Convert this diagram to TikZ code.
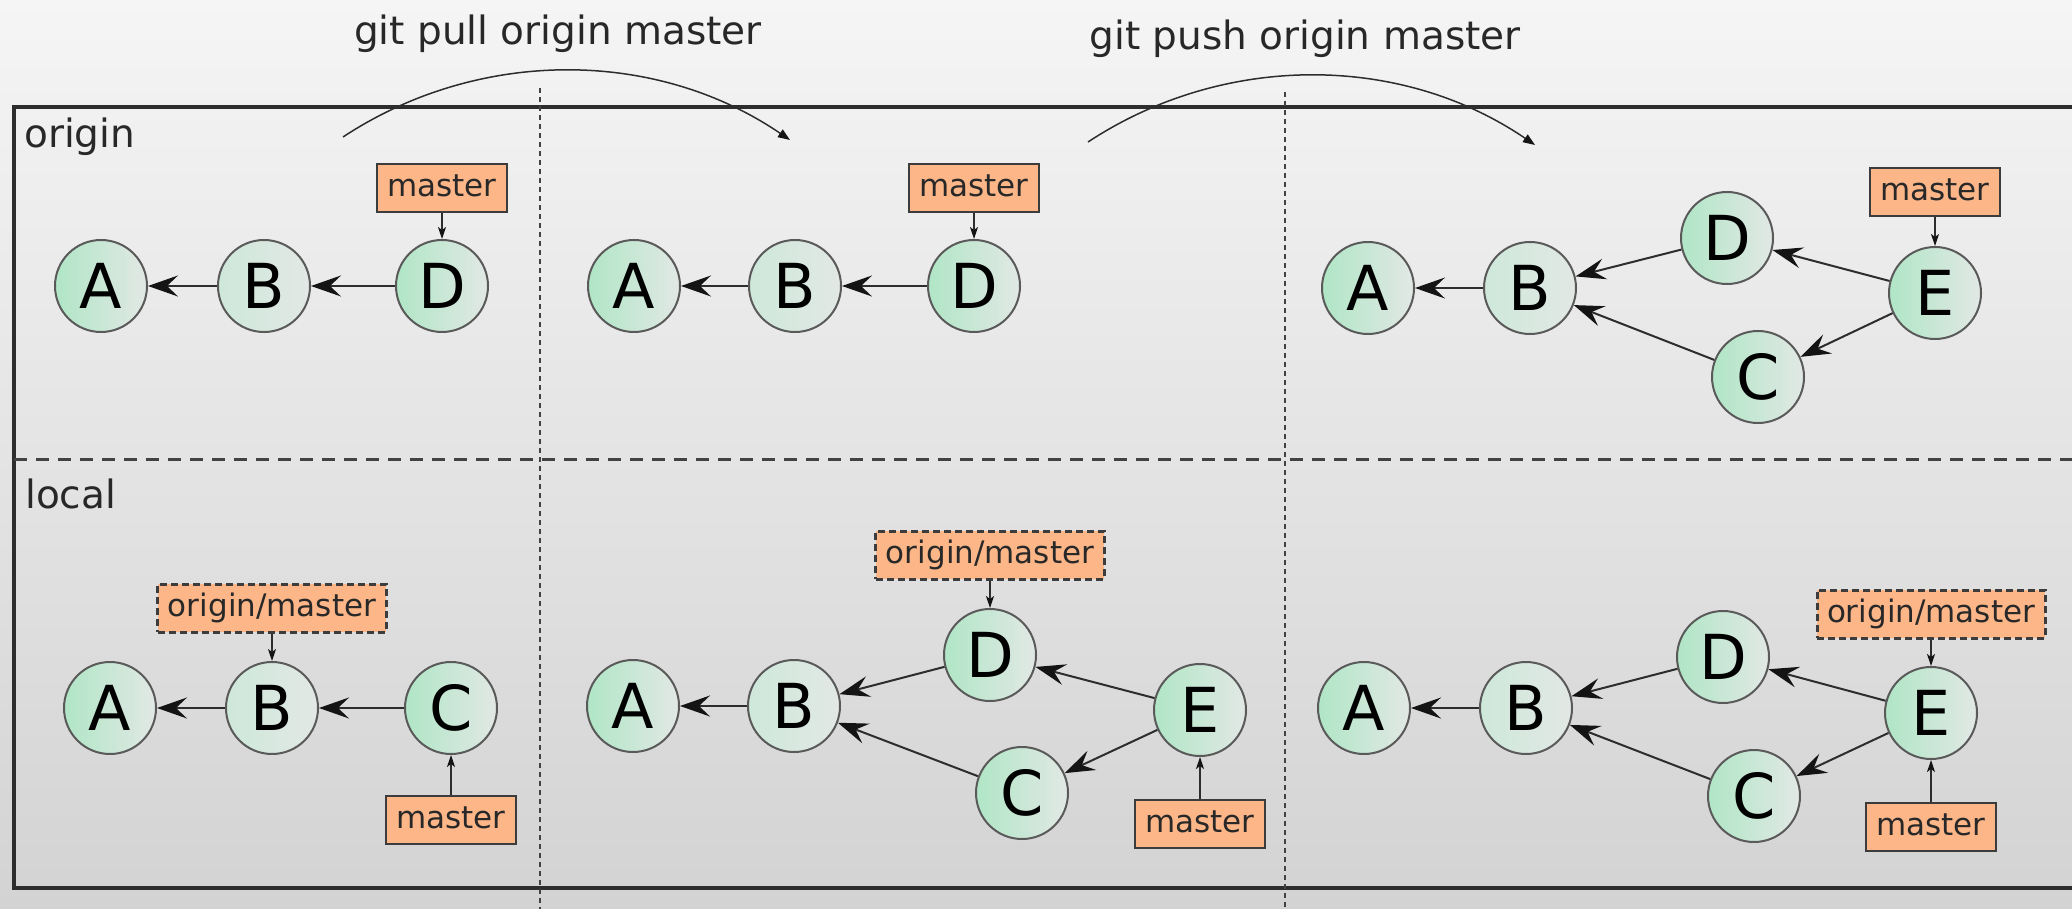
\documentclass[tikz,border=0pt]{standalone}
\usepackage{fontspec}
\setmainfont{DejaVu Sans}
\usetikzlibrary{arrows.meta}
\definecolor{bgtop}{RGB}{245,245,245}
\definecolor{bgbot}{RGB}{211,211,211}
\definecolor{cgreen}{RGB}{176,230,198}
\definecolor{cgray}{RGB}{226,232,229}
\definecolor{cpale}{RGB}{206,232,218}
\definecolor{cborder}{RGB}{90,90,90}
\definecolor{borange}{RGB}{252,182,136}
\definecolor{bborder}{RGB}{60,60,60}
\definecolor{linec}{RGB}{45,45,45}
\definecolor{tipc}{RGB}{20,20,20}
\definecolor{txt}{RGB}{40,40,40}
\tikzset{
  commit/.style={circle, draw=cborder, line width=2pt, minimum size=92pt, inner sep=0pt,
    left color=cgreen, right color=cgray, text=black, font=\fontsize{62}{70}\selectfont},
  pale/.style={left color=cpale, right color=cgray},
  branch/.style={draw=bborder, line width=2pt, fill=borange, text=txt,
    font=\fontsize{31}{36}\selectfont, inner xsep=10pt, inner ysep=0pt,
    minimum height=48pt, text height=24pt, text depth=7pt},
  remote/.style={branch, dash pattern=on 7pt off 4pt, line width=3pt},
  parent/.style={draw=linec, line width=2pt, -{Stealth[length=30pt,width=21pt,inset=11pt,color=tipc]}},
  ptr/.style={draw=linec, line width=1.5pt, -{Stealth[length=12pt,width=8pt,inset=3pt,color=tipc]}},
  cmdarc/.style={draw=linec, line width=1.5pt, -{Triangle[length=12pt,width=9pt,color=tipc]}},
  lbl/.style={inner sep=0pt, text=txt, font=\fontsize{39}{44}\selectfont},
}
\begin{document}
\begin{tikzpicture}[x=1pt,y=-1pt]
\useasboundingbox (0,0) rectangle (2072,909);
\shade[top color=bgtop, bottom color=bgbot] (0,0) rectangle (2072,909);

% frame and separators
\draw[line width=4pt, draw=linec] (14,107) rectangle (2110,888);
\draw[line width=3pt, draw=linec!90, dash pattern=on 13pt off 9pt] (14,459) -- (2110,459);
\draw[line width=2pt, draw=linec!90, dash pattern=on 5pt off 4pt] (540,88) -- (540,930);
\draw[line width=2pt, draw=linec!90, dash pattern=on 5pt off 4pt] (1285,92) -- (1285,930);

% labels
\node[lbl, anchor=base west] (lorigin) at (24,148) {origin};
\node[lbl, anchor=base west] (llocal) at (25,508) {local};
\node[lbl, anchor=base] (tpull) at (558,45) {git pull origin master};
\node[lbl, anchor=base] (tpush) at (1305,50) {git push origin master};

% command arcs
\coordinate (p1s) at (343,137);
\coordinate (p1e) at (790,140);
\coordinate (p2s) at (1088,142);
\coordinate (p2e) at (1535,145);
\draw[cmdarc] (p1s) .. controls (478,48) and (655,48) .. (p1e);
\draw[cmdarc] (p2s) .. controls (1223,53) and (1400,53) .. (p2e);

% ---- top panel 1 (origin)
\node[commit] (a1) at (101,286) {A};
\node[commit, pale] (b1) at (264,286) {B};
\node[commit] (d1) at (442,286) {D};
\node[branch] (m1) at (442,188) {master};
\draw[parent] (b1) -- (a1);
\draw[parent] (d1) -- (b1);
\draw[ptr] (m1) -- (d1);

% ---- top panel 2
\node[commit] (a2) at (634,286) {A};
\node[commit, pale] (b2) at (795,286) {B};
\node[commit] (d2) at (974,286) {D};
\node[branch] (m2) at (974,188) {master};
\draw[parent] (b2) -- (a2);
\draw[parent] (d2) -- (b2);
\draw[ptr] (m2) -- (d2);

% ---- top panel 3
\node[commit] (a3) at (1368,288) {A};
\node[commit, pale] (b3) at (1530,288) {B};
\node[commit] (d3) at (1727,238) {D};
\node[commit] (e3) at (1935,293) {E};
\node[commit] (c3) at (1758,377) {C};
\node[branch] (m3) at (1935,192) {master};
\draw[parent] (b3) -- (a3);
\draw[parent] (d3) -- (b3);
\draw[parent] (c3) -- (b3);
\draw[parent] (e3) -- (d3);
\draw[parent] (e3) -- (c3);
\draw[ptr] (m3) -- (e3);

% ---- bottom panel 1 (local)
\node[commit] (la1) at (110,708) {A};
\node[commit, pale] (lb1) at (272,708) {B};
\node[commit] (lc1) at (451,708) {C};
\node[remote] (lo1) at (272,608) {origin/master};
\node[branch] (lm1) at (451,820) {master};
\draw[parent] (lb1) -- (la1);
\draw[parent] (lc1) -- (lb1);
\draw[ptr] (lo1) -- (lb1);
\draw[ptr] (lm1) -- (lc1);

% ---- bottom panel 2
\node[commit] (la2) at (633,706) {A};
\node[commit, pale] (lb2) at (794,706) {B};
\node[commit] (ld2) at (990,655) {D};
\node[commit] (le2) at (1200,710) {E};
\node[commit] (lc2) at (1022,793) {C};
\node[remote] (lo2) at (990,555) {origin/master};
\node[branch] (lm2) at (1200,824) {master};
\draw[parent] (lb2) -- (la2);
\draw[parent] (ld2) -- (lb2);
\draw[parent] (lc2) -- (lb2);
\draw[parent] (le2) -- (ld2);
\draw[parent] (le2) -- (lc2);
\draw[ptr] (lo2) -- (ld2);
\draw[ptr] (lm2) -- (le2);

% ---- bottom panel 3
\node[commit] (la3) at (1364,708) {A};
\node[commit, pale] (lb3) at (1526,708) {B};
\node[commit] (ld3) at (1723,657) {D};
\node[commit] (le3) at (1931,713) {E};
\node[commit] (lc3) at (1754,796) {C};
\node[remote] (lo3) at (1931,614) {origin/master};
\node[branch] (lm3) at (1931,827) {master};
\draw[parent] (lb3) -- (la3);
\draw[parent] (ld3) -- (lb3);
\draw[parent] (lc3) -- (lb3);
\draw[parent] (le3) -- (ld3);
\draw[parent] (le3) -- (lc3);
\draw[ptr] (lo3) -- (le3);
\draw[ptr] (lm3) -- (le3);
\end{tikzpicture}
\end{document}
